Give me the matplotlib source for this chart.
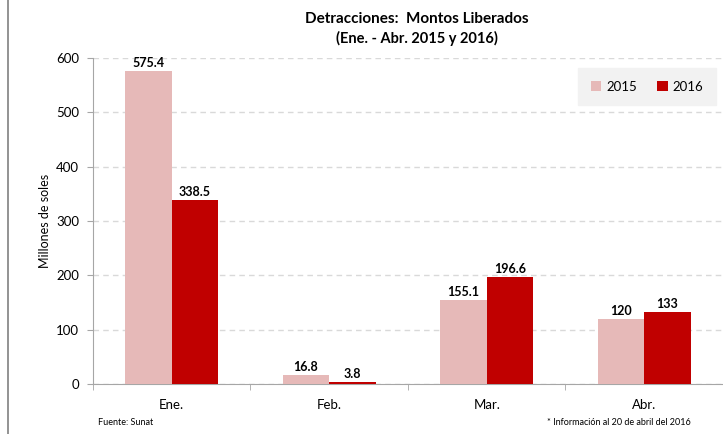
import matplotlib.pyplot as plt
import numpy as np

plt.rcParams['font.family'] = ['Lato', 'DejaVu Sans']

# data
months = ["Ene.", "Feb.", "Mar.", "Abr."]
v2015 = [575.4, 16.8, 155.1, 120]
v2016 = [338.5, 3.8, 196.6, 133]
lab2015 = ["575.4", "16.8", "155.1", "120"]
lab2016 = ["338.5", "3.8", "196.6", "133"]

c2015 = "#E6B9B8"
c2016 = "#C00000"

fig = plt.figure(figsize=(7.23, 4.34), dpi=100)
ax = fig.add_axes([0.1286, 0.1152, 0.8714, 0.7512])

x = np.arange(len(months))
w = 0.295
b1 = ax.bar(x - w/2, v2015, w, color=c2015, label="2015", zorder=3)
b2 = ax.bar(x + w/2, v2016, w, color=c2016, label="2016", zorder=3)

for rect, t in zip(b1, lab2015):
    ax.text(rect.get_x() + rect.get_width()/2, rect.get_height() + 4, t,
            ha="center", va="bottom", fontsize=9, fontweight="bold")
for rect, t in zip(b2, lab2016):
    ax.text(rect.get_x() + rect.get_width()/2, rect.get_height() + 4, t,
            ha="center", va="bottom", fontsize=9, fontweight="bold")

ax.set_ylim(0, 600)
ax.set_xlim(-0.5, 3.49)
ax.set_yticks(range(0, 601, 100))
ax.yaxis.grid(True, linestyle=(0, (4, 3)), color="#D9D9D9", linewidth=1, zorder=0)

ax.set_xticks(x)
ax.set_xticklabels(months, fontsize=9.5)
ax.set_xticks(np.arange(-0.5, 4, 1), minor=True)
ax.tick_params(axis="x", which="major", length=0, pad=11)
ax.tick_params(axis="x", which="minor", length=4, color="#A6A6A6", direction="out")
ax.tick_params(axis="y", length=4, color="#A6A6A6", labelsize=9.5, pad=6)

for s in ["top", "right"]:
    ax.spines[s].set_visible(False)
for s in ["left", "bottom"]:
    ax.spines[s].set_color("#A6A6A6")

ax.set_ylabel("Millones de soles", fontsize=9, labelpad=4)

leg = ax.legend(loc="upper right", bbox_to_anchor=(0.989, 0.969), frameon=True,
                fancybox=False, ncol=2, fontsize=9.5, handlelength=0.8,
                handleheight=0.8, columnspacing=1.5, borderpad=0.95,
                handletextpad=0.4, borderaxespad=0)
leg.get_frame().set_facecolor("#F2F2F2")
leg.get_frame().set_edgecolor("#F2F2F2")
leg.get_frame().set_alpha(1)

fig.text(0.576, 0.957, "Detracciones:  Montos Liberados", ha="center", va="center",
         fontsize=11, fontweight="bold")
fig.text(0.576, 0.911, "(Ene. - Abr. 2015 y 2016)", ha="center", va="center",
         fontsize=10.5, fontweight="bold")

fig.text(0.135, 0.027, "Fuente: Sunat", fontsize=6.5, va="center")
fig.text(0.955, 0.027, "* Información al 20 de abril del 2016", fontsize=6.5,
         va="center", ha="right")

fig.add_artist(plt.Line2D([0.011, 0.011], [0, 1], color="#808080", linewidth=1.2,
                          transform=fig.transFigure))

fig.savefig("out.png", dpi=100)
